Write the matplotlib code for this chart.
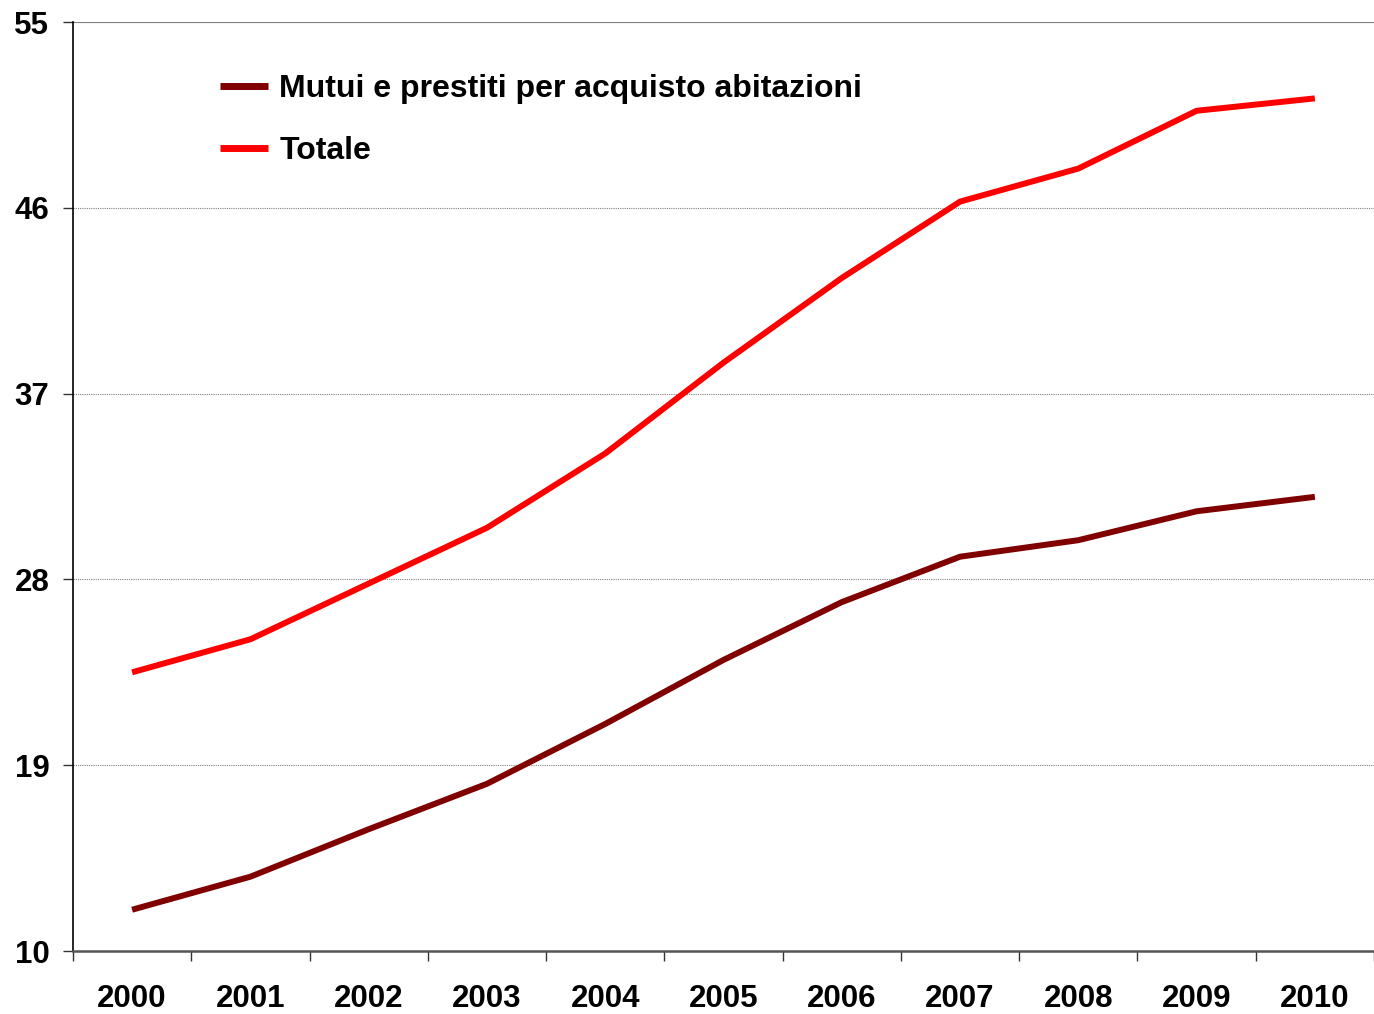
import matplotlib.pyplot as plt

years = ['2000', '2001', '2002', '2003', '2004', '2005',
         '2006', '2007', '2008', '2009', '2010']
mutui = [12.0, 13.6, 15.9, 18.1, 21.0, 24.1, 26.9, 29.1, 29.9, 31.3, 32.0]
totale = [23.5, 25.1, 27.8, 30.5, 34.1, 38.5, 42.6, 46.3, 47.9, 50.7, 51.3]
yticks = [10, 19, 28, 37, 46, 55]

plt.rcParams['font.family'] = ['Liberation Sans', 'DejaVu Sans']
plt.rcParams['font.weight'] = 'bold'

fig = plt.figure(figsize=(13.74, 10.14), dpi=100)
ax = fig.add_axes([0.0531, 0.0621, 0.9469, 0.9162])

x = list(range(len(years)))
ax.plot(x, mutui, color='#800000', lw=4.3, solid_capstyle='butt',
        label='Mutui e prestiti per acquisto abitazioni', zorder=3)
ax.plot(x, totale, color='#FF0000', lw=4.3, solid_capstyle='butt',
        label='Totale', zorder=3)

ax.set_xlim(-0.5, len(years) - 0.5)
ax.set_ylim(10, 55)
ax.set_yticks(yticks)
ax.set_yticklabels([str(v) for v in yticks], fontsize=22.5, fontweight='bold')

# category labels centred, tick marks between categories
ax.set_xticks(x)
ax.set_xticklabels(years, fontsize=22.5, fontweight='bold')
ax.tick_params(axis='x', length=0, pad=24)
ax.set_xticks([i - 0.5 for i in range(len(years) + 1)], minor=True)
ax.tick_params(axis='x', which='minor', length=7, width=1, color='#333333', direction='out')
ax.tick_params(axis='y', length=7, width=1, color='#333333', direction='out', pad=10)

ax.yaxis.grid(True, linestyle=(0, (1, 1)), color='#808080', lw=0.8)
ax.axhline(55, color='#808080', lw=1.5, zorder=2)

ax.spines['top'].set_visible(False)
ax.spines['right'].set_visible(False)
ax.spines['left'].set_color('#000000')
ax.spines['left'].set_linewidth(1.2)
ax.spines['bottom'].set_color('#555555')
ax.spines['bottom'].set_linewidth(1.8)

leg = ax.legend(loc='upper left', bbox_to_anchor=(0.091, 0.975), frameon=False,
                handlelength=1.5, handletextpad=0.35, labelspacing=1.0,
                prop={'weight': 'bold', 'size': 23})
for h in leg.get_lines():
    h.set_linewidth(5)

fig.savefig('out.png', dpi=100)
